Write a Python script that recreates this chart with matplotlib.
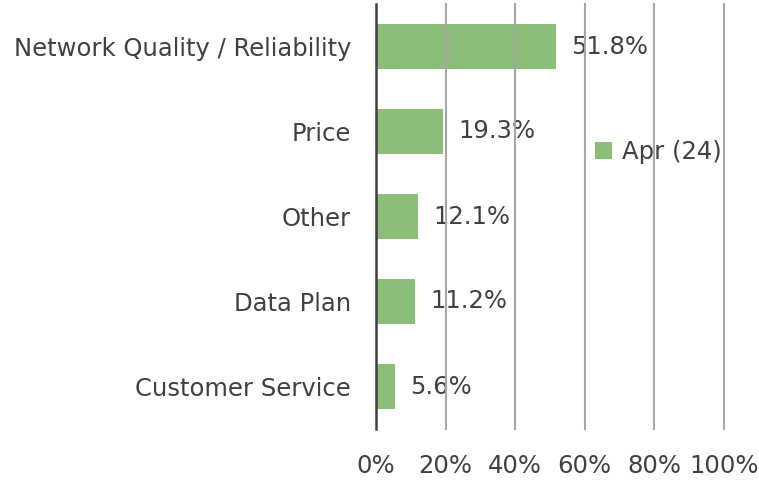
import matplotlib.pyplot as plt

categories = ["Network Quality / Reliability", "Price", "Other", "Data Plan", "Customer Service"]
values = [51.8, 19.3, 12.1, 11.2, 5.6]
ticks = [0, 20, 40, 60, 80, 100]
tick_labels = ["0%", "20%", "40%", "60%", "80%", "100%"]

plt.rcParams['font.family'] = ['DejaVu Sans']
txt = "#404040"
fs = 17.5

fig = plt.figure(figsize=(7.59, 4.82), dpi=100)
ax = fig.add_axes([376/759, 1-429/482, 348/759, 425/482])

pos = list(range(len(categories)))[::-1]
ax.barh(pos, values, height=0.52, color="#8BBE78", label="Apr (24)", zorder=1)
for p, v in zip(pos, values):
    ax.text(v + 4.3, p, f"{v}%", va="center", ha="left", fontsize=fs, color=txt, zorder=2)

ax.set_xlim(0, 100)
ax.set_ylim(-0.5, 4.5)
ax.set_xticks(ticks)
ax.set_xticklabels(tick_labels, fontsize=fs, color=txt)
ax.set_yticks(pos)
ax.set_yticklabels(categories, fontsize=fs, color=txt)
ax.tick_params(axis="y", length=0, pad=18)
ax.tick_params(axis="x", length=0, pad=18)

for t in ticks[1:]:
    ax.axvline(t, color="#A6A6A6", lw=1.5, zorder=3, clip_on=False)
for s in ["top", "right", "bottom"]:
    ax.spines[s].set_visible(False)
ax.spines["left"].set_color("#404040")
ax.spines["left"].set_linewidth(1.8)
ax.spines["left"].set_zorder(4)

ax.legend(loc="center left", bbox_to_anchor=(0.63, 0.652), frameon=False,
          borderpad=0, borderaxespad=0, handlelength=0.7, handleheight=0.7,
          handletextpad=0.4, prop={"size": fs}, labelcolor=txt)

fig.savefig("out.png", dpi=100)
